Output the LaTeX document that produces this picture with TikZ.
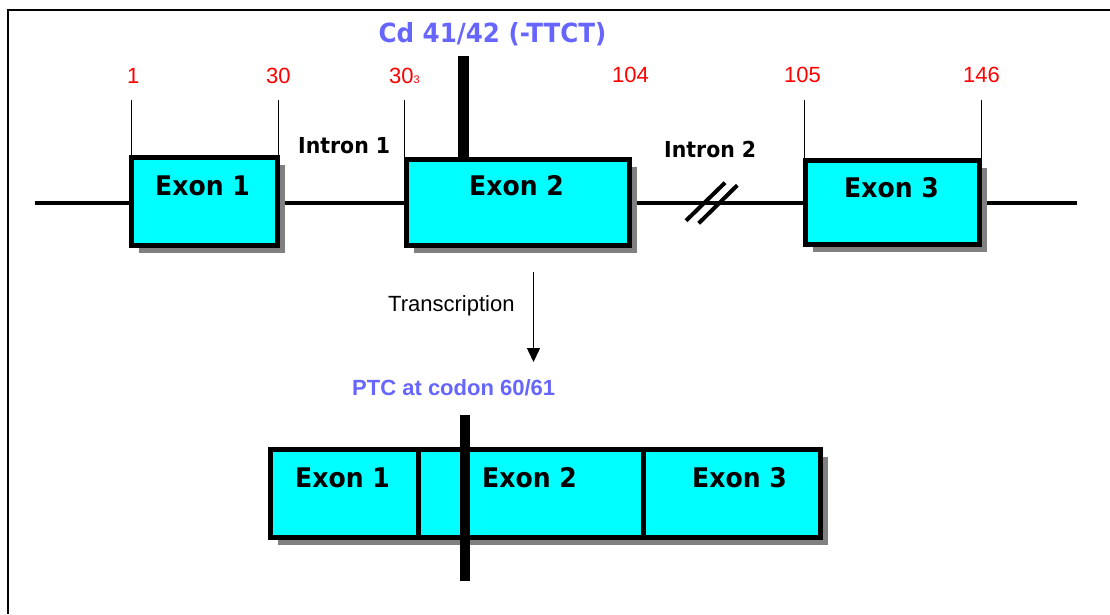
\documentclass[tikz,border=0pt]{standalone}
\usepackage{fontspec}
\setmainfont{DejaVu Sans}
\newfontfamily\arialfont{Liberation Sans}
\newfontfamily\exonfont{DejaVu Sans}[FakeStretch=0.93]
\usetikzlibrary{shadows,arrows.meta}
\definecolor{exoncyan}{RGB}{0,255,255}
\definecolor{mutblue}{RGB}{102,102,255}
\definecolor{shadowgray}{RGB}{128,128,128}
\tikzset{
  exonbox/.style={rectangle, draw=black, line width=5pt, fill=exoncyan, inner sep=0pt, outer sep=0pt,
    drop shadow={shadow xshift=7.5pt, shadow yshift=-7.5pt, fill=shadowgray, opacity=1}},
  exonlbl/.style={inner sep=0pt, anchor=base west, font=\exonfont\bfseries\fontsize{27}{32}\selectfont},
  intronlbl/.style={inner sep=0pt, anchor=base west, font=\exonfont\bfseries\fontsize{22}{26}\selectfont},
  numlbl/.style={inner sep=0pt, anchor=base west, text=red, font=\arialfont\fontsize{22}{26}\selectfont},
  mutlbl/.style={inner sep=0pt, anchor=base, text=mutblue},
  gline/.style={line width=4pt},
  tick/.style={line width=1pt},
  bar/.style={line width=10.5pt},
  frame/.style={line width=1.8pt}
}
\begin{document}
\begin{tikzpicture}[x=1pt,y=-1pt]
\useasboundingbox (0,0) rectangle (1110,614);
% frame (top and left only)
\coordinate (fTR) at (1110,10.2);
\coordinate (fTL) at (8.2,10.2);
\coordinate (fBL) at (8.2,614);
\draw[frame] (fTR) -- (fTL) -- (fBL);

% genomic line
\coordinate (gL) at (35,203);
\coordinate (gR) at (1077,203);
\draw[gline] (gL) -- (gR);

% break mark on intron 2
\coordinate (s1a) at (686,220.7);
\coordinate (s1b) at (725,182.7);
\coordinate (s2a) at (698.7,223.3);
\coordinate (s2b) at (737.3,185.3);
\draw[gline] (s1a) -- (s1b);
\draw[gline] (s2a) -- (s2b);

% gene exons
\node[exonbox, minimum width=146pt, minimum height=87.5pt] (e1) at (204,201.25) {};
\node[exonbox, minimum width=223.5pt, minimum height=85.5pt] (e2) at (517.75,202.25) {};
\node[exonbox, minimum width=174pt, minimum height=84.5pt] (e3) at (892.5,202.25) {};

\node[exonlbl] (e1t) at (155,195) {Exon 1};
\node[exonlbl] (e2t) at (469,195) {Exon 2};
\node[exonlbl] (e3t) at (844,197.7) {Exon 3};

\node[intronlbl] (i1) at (298,153) {Intron 1};
\node[intronlbl] (i2) at (664,157) {Intron 2};

% ticks
\coordinate (tk1) at (131.5,100);
\coordinate (tk2) at (278,100);
\coordinate (tk3) at (404,100);
\coordinate (tk4) at (804.3,100);
\coordinate (tk5) at (981.7,100);
\draw[tick] (tk1) -- (tk1 |- e1.north);
\draw[tick] (tk2) -- (tk2 |- e1.north);
\draw[tick] (tk3) -- (tk3 |- e2.north);
\draw[tick] (tk4) -- (tk4 |- e3.north);
\draw[tick] (tk5) -- (tk5 |- e3.north);

% numbers
\node[numlbl] (n1) at (127,83) {1};
\node[numlbl] (n30) at (266,83) {30};
\node[numlbl] (n31) at (389,83) {30{\fontsize{11}{11}\selectfont 3}};
\node[numlbl] (n104) at (612,82) {104};
\node[numlbl] (n105) at (784,82) {105};
\node[numlbl] (n146) at (963,82) {146};

% mutation bar and label
\coordinate (cdTop) at (463.3,56);
\draw[bar] (cdTop) -- (cdTop |- e2.north);
\node[mutlbl, font=\exonfont\bfseries\fontsize{26.4}{31}\selectfont] (cd) at (492.5,42.7) {Cd 41/42 (-TTCT)};

% transcription arrow
\coordinate (arS) at (533.5,272);
\coordinate (arE) at (533.5,362);
\draw[line width=1.5pt, -{Triangle[length=14pt,width=13pt]}] (arS) -- (arE);
\node[inner sep=0pt, anchor=base west, font=\arialfont\fontsize{22}{26}\selectfont] (tr) at (388,311.7) {Transcription};

\node[mutlbl, font=\arialfont\bfseries\fontsize{22}{26}\selectfont] (ptc) at (453.7,395) {PTC at codon 60/61};

% mRNA
\node[exonbox, minimum width=147.5pt, minimum height=88pt] (m1) at (344.25,493) {};
\node[exonbox, minimum width=225.5pt, minimum height=88pt] (m2) at (530.75,493) {};
\node[exonbox, minimum width=177pt, minimum height=88pt] (m3) at (732,493) {};

\node[exonlbl] (m1t) at (295,487) {Exon 1};
\node[exonlbl] (m2t) at (482,487) {Exon 2};
\node[exonlbl] (m3t) at (692,487) {Exon 3};

\coordinate (pA) at (464.8,415);
\coordinate (pB) at (464.8,581);
\draw[bar] (pA) -- (pB);
\end{tikzpicture}
\end{document}
